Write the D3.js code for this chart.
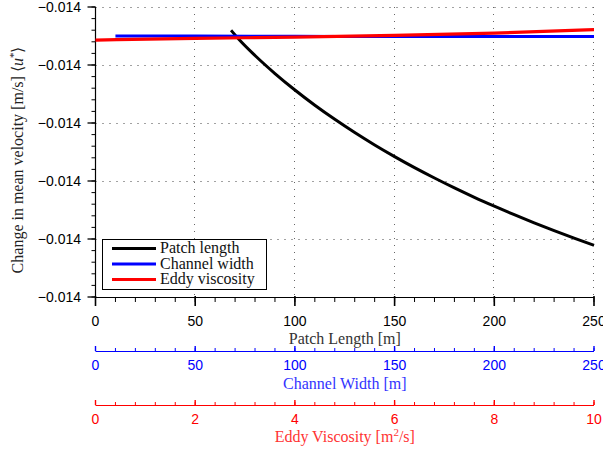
<!DOCTYPE html>
<html>
<head>
<meta charset="utf-8">
<script src="https://cdn.jsdelivr.net/npm/d3@7"></script>
<style>
  html, body { margin: 0; padding: 0; background: #fff; overflow: hidden; }
  svg { display: block; }
</style>
</head>
<body>
<svg id="chart" width="603" height="452"></svg>
<script>
// ---- data ----
const patchLength = [68, 72, 80, 90, 100, 110, 120, 130, 140, 150, 160, 170, 180, 190, 200, 210, 220, 230, 240, 250];
const patchDU = [-0.0139402, -0.0139560, -0.0139836, -0.0140147, -0.0140431, -0.0140693, -0.0140936, -0.0141164, -0.0141378, -0.0141579,
                 -0.0141769, -0.0141948, -0.0142119, -0.0142281, -0.0142434, -0.0142581, -0.0142721, -0.0142855, -0.0142984, -0.0143109];
const channelWidth = [10, 50, 100, 150, 200, 250];
const channelDU = [-0.013950, -0.013950, -0.0139505, -0.013951, -0.013951, -0.013951];
const eddyVisc = [0, 2, 4, 6, 8, 10];
const eddyDU = [-0.013957, -0.013954, -0.013952, -0.013949, -0.013945, -0.013939];
const seriesNames = ["Patch length", "Channel width", "Eddy viscosity"];
const seriesColors = ["#000000", "#0000ff", "#ff0000"];
const yDomain = [-0.0144, -0.0139];
const lengthDomain = [0, 250];
const eddyDomain = [0, 10];

// ---- layout ----
const svg = d3.select("#chart");
const L = 95.5, R = 594, T = 7, B = 297;
const x = d3.scaleLinear().domain(lengthDomain).range([L, R]);
const xe = d3.scaleLinear().domain(eddyDomain).range([L, R]);
const y = d3.scaleLinear().domain(yDomain).range([B, T]);
const sans = "'Liberation Sans', Arial, sans-serif";
const serif = "'Liberation Serif', 'Times New Roman', serif";
const fmt = d3.format(".3f");

const yMajor = y.ticks(5);
const yMinor = y.ticks(25);
const xMajor = x.ticks(5);
const xMinor = x.ticks(25);
const eMajor = xe.ticks(5);
const eMinor = d3.range(0, 10.0001, 0.4);

// grid
const grid = svg.append("g");
grid.selectAll("line.h").data(yMajor.filter(v => Math.abs(y(v) - B) > 1)).join("line")
  .attr("x1", L).attr("x2", R)
  .attr("y1", d => Math.round(y(d)) + 0.5).attr("y2", d => Math.round(y(d)) + 0.5)
  .attr("stroke", "#444").attr("stroke-width", 1).attr("stroke-dasharray", "1,6");
grid.selectAll("line.v").data(xMajor.filter(v => v > 0)).join("line")
  .attr("x1", d => Math.round(x(d)) - 0.5).attr("x2", d => Math.round(x(d)) - 0.5)
  .attr("y1", T).attr("y2", B)
  .attr("stroke", "#666").attr("stroke-width", 1).attr("stroke-dasharray", "1,6");

// left axis
const yAxis = svg.append("g");
yAxis.append("line").attr("x1", L).attr("x2", L).attr("y1", T).attr("y2", B)
  .attr("stroke", "#000").attr("stroke-width", 1.2);
yAxis.selectAll("line.mi").data(yMinor).join("line")
  .attr("x1", L - 4).attr("x2", L).attr("y1", d => y(d)).attr("y2", d => y(d))
  .attr("stroke", "#000").attr("stroke-width", 1);
yAxis.selectAll("line.ma").data(yMajor).join("line")
  .attr("x1", L - 8).attr("x2", L).attr("y1", d => y(d)).attr("y2", d => y(d))
  .attr("stroke", "#000").attr("stroke-width", 1.3);
yAxis.selectAll("text").data(yMajor).join("text")
  .attr("x", 81).attr("y", d => y(d)).attr("dy", "0.36em")
  .attr("text-anchor", "end").attr("font-family", sans).attr("font-size", 14).attr("fill", "#000")
  .text(d => fmt(d));

// bottom (patch length) axis
const bx = svg.append("g");
bx.append("line").attr("x1", L).attr("x2", R).attr("y1", B + 0.5).attr("y2", B + 0.5)
  .attr("stroke", "#000").attr("stroke-width", 1.2);
bx.selectAll("line.mi").data(xMinor).join("line")
  .attr("x1", d => x(d)).attr("x2", d => x(d)).attr("y1", B).attr("y2", B + 5)
  .attr("stroke", "#000").attr("stroke-width", 1);
bx.selectAll("line.ma").data(xMajor).join("line")
  .attr("x1", d => x(d)).attr("x2", d => x(d)).attr("y1", B - 1).attr("y2", B + 9)
  .attr("stroke", "#000").attr("stroke-width", 1.6);
bx.selectAll("text").data(xMajor).join("text")
  .attr("x", d => x(d)).attr("y", 326)
  .attr("text-anchor", "middle").attr("font-family", sans).attr("font-size", 14).attr("fill", "#000")
  .text(d => d);
bx.append("text").attr("x", (L + R) / 2).attr("y", 344)
  .attr("text-anchor", "middle").attr("font-family", serif).attr("font-size", 16).attr("fill", "#333")
  .text("Patch Length [m]");

// channel width axis (blue)
const cx = svg.append("g");
const cY = 351;
cx.append("line").attr("x1", L).attr("x2", R).attr("y1", cY + 0.5).attr("y2", cY + 0.5)
  .attr("stroke", "#0000ff").attr("stroke-width", 1.2);
cx.selectAll("line.mi").data(xMinor).join("line")
  .attr("x1", d => x(d)).attr("x2", d => x(d)).attr("y1", cY - 3).attr("y2", cY)
  .attr("stroke", "#0000ff").attr("stroke-width", 1);
cx.selectAll("line.ma").data(xMajor).join("line")
  .attr("x1", d => x(d)).attr("x2", d => x(d)).attr("y1", cY - 5).attr("y2", cY)
  .attr("stroke", "#0000ff").attr("stroke-width", 1.4);
cx.selectAll("text").data(xMajor).join("text")
  .attr("x", d => x(d)).attr("y", 370)
  .attr("text-anchor", "middle").attr("font-family", sans).attr("font-size", 14).attr("fill", "#0000ff")
  .text(d => d);
cx.append("text").attr("x", (L + R) / 2).attr("y", 389)
  .attr("text-anchor", "middle").attr("font-family", serif).attr("font-size", 16).attr("fill", "#3333ff")
  .text("Channel Width [m]");

// eddy viscosity axis (red)
const ex = svg.append("g");
const eY = 405;
ex.append("line").attr("x1", L).attr("x2", R).attr("y1", eY + 0.5).attr("y2", eY + 0.5)
  .attr("stroke", "#ff0000").attr("stroke-width", 1.2);
ex.selectAll("line.mi").data(eMinor).join("line")
  .attr("x1", d => xe(d)).attr("x2", d => xe(d)).attr("y1", eY - 3).attr("y2", eY)
  .attr("stroke", "#ff0000").attr("stroke-width", 1);
ex.selectAll("line.ma").data(eMajor).join("line")
  .attr("x1", d => xe(d)).attr("x2", d => xe(d)).attr("y1", eY - 5).attr("y2", eY)
  .attr("stroke", "#ff0000").attr("stroke-width", 1.4);
ex.selectAll("text").data(eMajor).join("text")
  .attr("x", d => xe(d)).attr("y", 424)
  .attr("text-anchor", "middle").attr("font-family", sans).attr("font-size", 14).attr("fill", "#ff0000")
  .text(d => d);
const et = ex.append("text").attr("x", (L + R) / 2).attr("y", 442)
  .attr("text-anchor", "middle").attr("font-family", serif).attr("font-size", 16).attr("fill", "#ff3333");
et.append("tspan").text("Eddy Viscosity [m");
et.append("tspan").attr("dy", -6).attr("font-size", 11).text("2");
et.append("tspan").attr("dy", 6).text("/s]");

// y title
const yt = svg.append("text")
  .attr("transform", `translate(23,160) rotate(-90)`)
  .attr("text-anchor", "middle").attr("font-family", serif).attr("font-size", 16).attr("fill", "#222");
yt.append("tspan").text("Change in mean velocity [m/s] \u27E8");
yt.append("tspan").attr("font-style", "italic").text("u");
yt.append("tspan").attr("dy", -6).attr("font-size", 11).text("*");
yt.append("tspan").attr("dy", 6).text("\u27E9");

// lines
const plot = svg.append("g");
const lineP = d3.line().x((d, i) => x(patchLength[i])).y(d => y(d)).curve(d3.curveMonotoneX);
const lineC = d3.line().x((d, i) => x(channelWidth[i])).y(d => y(d)).curve(d3.curveMonotoneX);
const lineE = d3.line().x((d, i) => xe(eddyVisc[i])).y(d => y(d)).curve(d3.curveMonotoneX);
plot.append("path").attr("d", lineP(patchDU)).attr("fill", "none").attr("stroke", seriesColors[0]).attr("stroke-width", 3);
plot.append("path").attr("d", lineC(channelDU)).attr("fill", "none").attr("stroke", seriesColors[1]).attr("stroke-width", 3);
plot.append("path").attr("d", lineE(eddyDU)).attr("fill", "none").attr("stroke", seriesColors[2]).attr("stroke-width", 3.2);

// legend
const lg = svg.append("g");
lg.append("rect").attr("x", 102.5).attr("y", 239.5).attr("width", 164).attr("height", 50)
  .attr("fill", "#fff").attr("stroke", "#000").attr("stroke-width", 1);
seriesNames.forEach((name, i) => {
  const yy = 248.5 + i * 15.5;
  lg.append("line").attr("x1", 112).attr("x2", 156).attr("y1", yy).attr("y2", yy)
    .attr("stroke", seriesColors[i]).attr("stroke-width", 3);
  lg.append("text").attr("x", 160).attr("y", yy + 4.5)
    .attr("font-family", serif).attr("font-size", 16).attr("fill", "#111").text(name);
});
</script>
</body>
</html>
